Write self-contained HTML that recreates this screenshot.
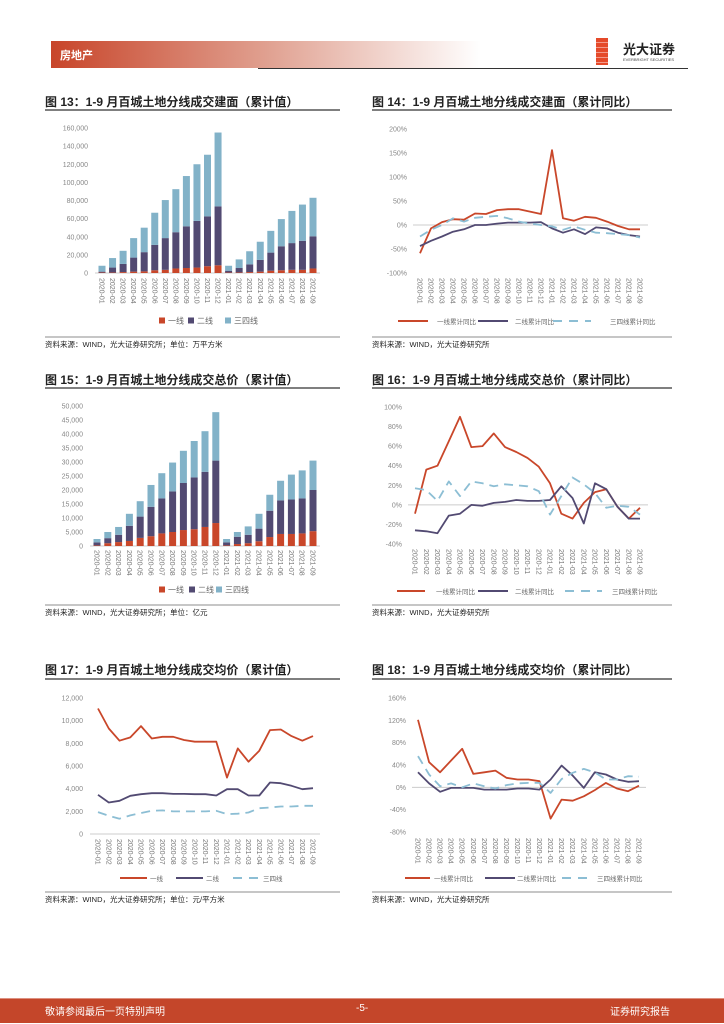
<!DOCTYPE html>
<html><head><meta charset="utf-8">
<style>
body{margin:0;background:#fff;font-family:"Liberation Sans","Noto Sans CJK SC",sans-serif;}
#page{position:relative;width:724px;height:1024px;overflow:hidden;background:#fff;}
.t{position:absolute;white-space:nowrap;}
.title{font-size:12px;font-weight:bold;color:#222;}
.src{font-size:7.5px;color:#222;}
svg text{font-family:"Liberation Sans","Noto Sans CJK SC",sans-serif;}
</style></head><body>
<div id="page">
<div style="position:absolute;left:51px;top:41px;width:430px;height:27px;background:linear-gradient(90deg,#c8452a 0%,#e0a090 50%,#fff 100%);"></div>
<div class="t" style="left:60px;top:47px;font-size:11px;color:#fff;font-weight:bold;">房地产</div>
<div style="position:absolute;left:258px;top:68px;width:430px;height:1px;background:#333;"></div>
<div style="position:absolute;left:596px;top:38px;width:12px;height:27px;background:repeating-linear-gradient(180deg,#e54a2a 0px,#e54a2a 4px,#f29a8a 4px,#f29a8a 5px);"></div>
<div class="t" style="left:623px;top:39px;font-size:13px;font-weight:bold;color:#222;">光大证券</div>
<div class="t" style="left:623px;top:57px;font-size:4px;color:#444;">EVERBRIGHT SECURITIES</div>

<div class="t title" style="left:45px;top:93px;">图 13：1-9 月百城土地分线成交建面（累计值）</div>
<div class="t title" style="left:372px;top:93px;">图 14：1-9 月百城土地分线成交建面（累计同比）</div>
<div class="t title" style="left:45px;top:371px;">图 15：1-9 月百城土地分线成交总价（累计值）</div>
<div class="t title" style="left:372px;top:371px;">图 16：1-9 月百城土地分线成交总价（累计同比）</div>
<div class="t title" style="left:45px;top:661px;">图 17：1-9 月百城土地分线成交均价（累计值）</div>
<div class="t title" style="left:372px;top:661px;">图 18：1-9 月百城土地分线成交均价（累计同比）</div>

<div class="t src" style="left:45px;top:339px;">资料来源：WIND，光大证券研究所；单位：万平方米</div>
<div class="t src" style="left:372px;top:339px;">资料来源：WIND，光大证券研究所</div>
<div class="t src" style="left:45px;top:607px;">资料来源：WIND，光大证券研究所；单位：亿元</div>
<div class="t src" style="left:372px;top:607px;">资料来源：WIND，光大证券研究所</div>
<div class="t src" style="left:45px;top:894px;">资料来源：WIND，光大证券研究所；单位：元/平方米</div>
<div class="t src" style="left:372px;top:894px;">资料来源：WIND，光大证券研究所</div>

<div style="position:absolute;left:0;top:998px;width:724px;height:24px;background:#c4462a;border-top:1px solid #dd9080;"></div>
<div class="t" style="left:45px;top:1003px;font-size:10px;color:#fff;">敬请参阅最后一页特别声明</div>
<div class="t" style="left:356px;top:1003px;font-size:10px;color:#fff;">-5-</div>
<div class="t" style="left:610px;top:1003px;font-size:10px;color:#fff;">证券研究报告</div>

<svg id="charts" width="724" height="1024" style="position:absolute;left:0;top:0;"></svg>
</div>
<script>
const months = ["2020-01","2020-02","2020-03","2020-04","2020-05","2020-06","2020-07","2020-08","2020-09","2020-10","2020-11","2020-12","2021-01","2021-02","2021-03","2021-04","2021-05","2021-06","2021-07","2021-08","2021-09"];
// Fig 13 (万平方米) stacked: tier1, tier2, tier3-4
const area_t1 = [500,500,1000,1500,1800,3000,3500,5000,5500,6000,7500,8500,500,600,1000,1500,2500,3000,3500,3500,5000];
const area_t2 = [1000,5500,9000,15500,21200,28000,35000,40000,46000,51500,55000,65000,2000,4900,8500,13000,20000,26500,29500,32000,35500];
const area_t3 = [6500,10500,14500,21500,27000,35500,42000,47500,55500,62500,68000,81500,5500,9500,14500,20000,24000,30000,35500,40000,42500];
const area_ticks = [0,20000,40000,60000,80000,100000,120000,140000,160000];
// Fig 14 (%)
const areaYoy_t1 = [-59,-7,6,12,11,24,23,31,33,33,28,23,156,14,9,17,15,7,-2,-9,-9];
const areaYoy_t2 = [-44,-33,-24,-14,-9,0,0,3,5,5,5,6,-7,-16,-9,-19,-5,-7,-16,-21,-24];
const areaYoy_t3 = [-24,-10,0,14,7,15,17,19,14,7,3,0,-3,-10,-3,-10,-16,-17,-19,-21,-26];
const areaYoy_ticks = [-100,-50,0,50,100,150,200];
// Fig 15 (亿元)
const price_t1 = [200,1000,1400,1800,2900,3500,4500,5000,5700,6000,6800,8200,200,700,1000,1700,3200,4300,4300,4500,5300];
const price_t2 = [1100,1800,2600,5400,7600,10500,12500,14500,16800,18500,19700,22300,1100,2600,3000,4500,9400,12000,12300,12500,14700];
const price_t3 = [1200,2200,2800,4300,5500,7800,9000,10300,11500,13000,14500,17300,1200,1700,3000,5300,5700,7000,8900,10000,10500];
const price_ticks = [0,5000,10000,15000,20000,25000,30000,35000,40000,45000,50000];
// Fig 16 (%)
const priceYoy_t1 = [-9,36,40,65,90,59,60,73,59,54,48,39,22,-9,-14,2,13,16,-2,-14,-3];
const priceYoy_t2 = [-26,-27,-29,-11,-9,0,-1,2,3,5,4,4,5,19,7,-19,22,16,-2,-14,-14];
const priceYoy_t3 = [17,15,4,24,9,24,22,19,21,20,19,14,-10,9,28,21,12,-3,-1,-2,-10];
const priceYoy_ticks = [-40,-20,0,20,40,60,80,100];
// Fig 17 (元/平方米)
const avg_t1 = [11070,9310,8230,8520,9520,8430,8580,8580,8290,8140,8140,8140,4980,7550,6380,7350,9170,9220,8640,8230,8640];
const avg_t2 = [3460,2780,2930,3370,3510,3600,3600,3540,3540,3510,3510,3400,3950,3950,3400,3400,4540,4480,4250,3950,4040];
const avg_t3 = [1930,1610,1350,1640,1850,2050,2080,1990,1990,1990,1990,2050,1760,1790,1900,2280,2340,2430,2430,2490,2490];
const avg_ticks = [0,2000,4000,6000,8000,10000,12000];
// Fig 18 (%)
const avgYoy_t1 = [121,45,27,48,69,24,27,30,17,14,14,11,-56,-22,-24,-16,-5,8,-2,-7,3];
const avgYoy_t2 = [27,7,-8,-1,-1,-1,-4,-4,-4,-2,-2,-4,14,39,21,-1,27,23,14,10,11];
const avgYoy_t3 = [56,23,2,7,0,7,2,-2,4,7,8,8,-10,15,26,33,27,14,14,20,19];
const avgYoy_ticks = [-80,-40,0,40,80,120,160];

const RED="#c9472a", PUR="#524a72", BLU="#82b2c8", LBLU="#8cbed4";
const svg=document.getElementById('charts');
const NS="http://www.w3.org/2000/svg";
function el(tag,attrs,parent){const e=document.createElementNS(NS,tag);for(const k in attrs)e.setAttribute(k,attrs[k]);(parent||svg).appendChild(e);return e;}
function fmt(v,pct){if(pct)return v+"%";return v.toLocaleString('en-US');}
function rules(c){
  const l1=el('line',{x1:c.L,x2:c.R,y1:c.ruleTop,y2:c.ruleTop,stroke:'#333','stroke-width':1.2});
  
  
  const l2=el('line',{x1:c.L,x2:c.R,y1:c.ruleBot,y2:c.ruleBot,stroke:'#666','stroke-width':0.8});
  
  
}
function axes(c){
  const g=el('g',{});
  
  
  const y=v=>c.y0+(v-c.ymin)/(c.ymax-c.ymin)*(c.y1-c.y0);
  c.y=y;
  c.x=i=>c.xf+i*(c.xl-c.xf)/(months.length-1);
  c.ticks.forEach(v=>{
    const t=el('text',{x:c.labR,y:y(v)+2.5,'text-anchor':'end','font-size':7,fill:'#888'},g);
    t.textContent=fmt(v,c.pct);
    
    
  });
  const base=c.pct?y(0):y(c.ymin);
  el('line',{x1:c.axL,x2:c.axR,y1:base,y2:base,stroke:'#ccc','stroke-width':1},g);
  const ly=c.labTop;
  months.forEach((m,i)=>{
    const t=el('text',{x:0,y:0,'font-size':7,fill:'#777',transform:`translate(${c.x(i)-2.5},${ly}) rotate(90)`},g);
    t.textContent=m;
    
    
  });
}
function bars(c,series,names){
  axes(c);
  const w=7;
  months.forEach((m,i)=>{
    let acc=0;
    series.forEach((s,k)=>{
      const y1=c.y(acc),y2=c.y(acc+s[i]);acc+=s[i];
      const r=el('rect',{x:c.x(i)-w/2,y:y2,width:w,height:Math.max(0,y1-y2),fill:[RED,PUR,BLU][k]});
      
      
    });
  });
}
function lines(c,series,names){
  axes(c);
  series.forEach((s,k)=>{
    const d=s.map((v,i)=>(i?'L':'M')+c.x(i).toFixed(1)+','+c.y(v).toFixed(1)).join(' ');
    const p=el('path',{d:d,fill:'none',stroke:[RED,PUR,LBLU][k],'stroke-width':1.8,'stroke-dasharray':k==2?'9,6':'none','stroke-linejoin':'round'});
    
    
  });
}
function legendSq(items,y){
  items.forEach(it=>{
    const r=el('rect',{x:it.x,y:y-3.5,width:6,height:6,fill:it.c});
    
    
    const t=el('text',{x:it.x+9,y:y+2.5,'font-size':8,fill:'#666'});
    t.textContent=it.t;
    
    
  });
}
function legendLn(items,y){
  items.forEach((it,k)=>{
    const l=el('line',{x1:it.x,x2:it.x+it.w,y1:y,y2:y,stroke:it.c,'stroke-width':2,'stroke-dasharray':k==2?'9,7':'none'});
    
    
    const t=el('text',{x:it.tx,y:y+3,'font-size':6.5,fill:'#666'});
    t.textContent=it.t;
    
    
  });
}
const names=['tier1','tier2','tier34'];
let c13={id:'fig13',L:45,R:340,ruleTop:110,ruleBot:337,ymin:0,ymax:160000,y0:273,y1:128,ticks:area_ticks,labR:88,xf:102,xl:313,axL:95,axR:320,labTop:278};
rules(c13);bars(c13,[area_t1,area_t2,area_t3],names);
legendSq([{x:159,c:RED,t:'一线'},{x:188,c:PUR,t:'二线'},{x:225,c:BLU,t:'三四线'}],321);
let c14={id:'fig14',L:372,R:672,ruleTop:110,ruleBot:337,pct:true,ymin:-100,ymax:200,y0:273,y1:129,ticks:areaYoy_ticks,labR:407,xf:420,xl:640,axL:413,axR:648,labTop:278};
rules(c14);lines(c14,[areaYoy_t1,areaYoy_t2,areaYoy_t3],names);
legendLn([{x:398,w:30,c:RED,tx:437,t:'一线累计同比'},{x:478,w:30,c:PUR,tx:515,t:'二线累计同比'},{x:553,w:38,c:LBLU,tx:610,t:'三四线累计同比'}],321);
let c15={id:'fig15',L:45,R:340,ruleTop:388,ruleBot:605,ymin:0,ymax:50000,y0:546,y1:406,ticks:price_ticks,labR:83,xf:97,xl:313,axL:90,axR:320,labTop:550};
rules(c15);bars(c15,[price_t1,price_t2,price_t3],names);
legendSq([{x:159,c:RED,t:'一线'},{x:189,c:PUR,t:'二线'},{x:216,c:BLU,t:'三四线'}],590);
let c16={id:'fig16',L:372,R:672,ruleTop:388,ruleBot:605,pct:true,ymin:-40,ymax:100,y0:544,y1:407,ticks:priceYoy_ticks,labR:402,xf:415,xl:640,axL:408,axR:648,labTop:549};
rules(c16);lines(c16,[priceYoy_t1,priceYoy_t2,priceYoy_t3],names);
legendLn([{x:397,w:28,c:RED,tx:436,t:'一线累计同比'},{x:478,w:30,c:PUR,tx:515,t:'二线累计同比'},{x:565,w:37,c:LBLU,tx:612,t:'三四线累计同比'}],591);
let c17={id:'fig17',L:45,R:340,ruleTop:679,ruleBot:892,ymin:0,ymax:12000,y0:834,y1:698,ticks:avg_ticks,labR:83,xf:98,xl:313,axL:90,axR:320,labTop:839};
rules(c17);lines(c17,[avg_t1,avg_t2,avg_t3],names);
legendLn([{x:120,w:27,c:RED,tx:150,t:'一线'},{x:176,w:27,c:PUR,tx:206,t:'二线'},{x:233,w:28,c:LBLU,tx:263,t:'三四线'}],878);
let c18={id:'fig18',L:372,R:672,ruleTop:679,ruleBot:892,pct:true,ymin:-80,ymax:160,y0:832,y1:698,ticks:avgYoy_ticks,labR:406,xf:418,xl:639,axL:412,axR:646,labTop:838};
rules(c18);lines(c18,[avgYoy_t1,avgYoy_t2,avgYoy_t3],names);
legendLn([{x:405,w:25,c:RED,tx:434,t:'一线累计同比'},{x:485,w:30,c:PUR,tx:517,t:'二线累计同比'},{x:562,w:30,c:LBLU,tx:597,t:'三四线累计同比'}],878);
</script>
</body></html>
